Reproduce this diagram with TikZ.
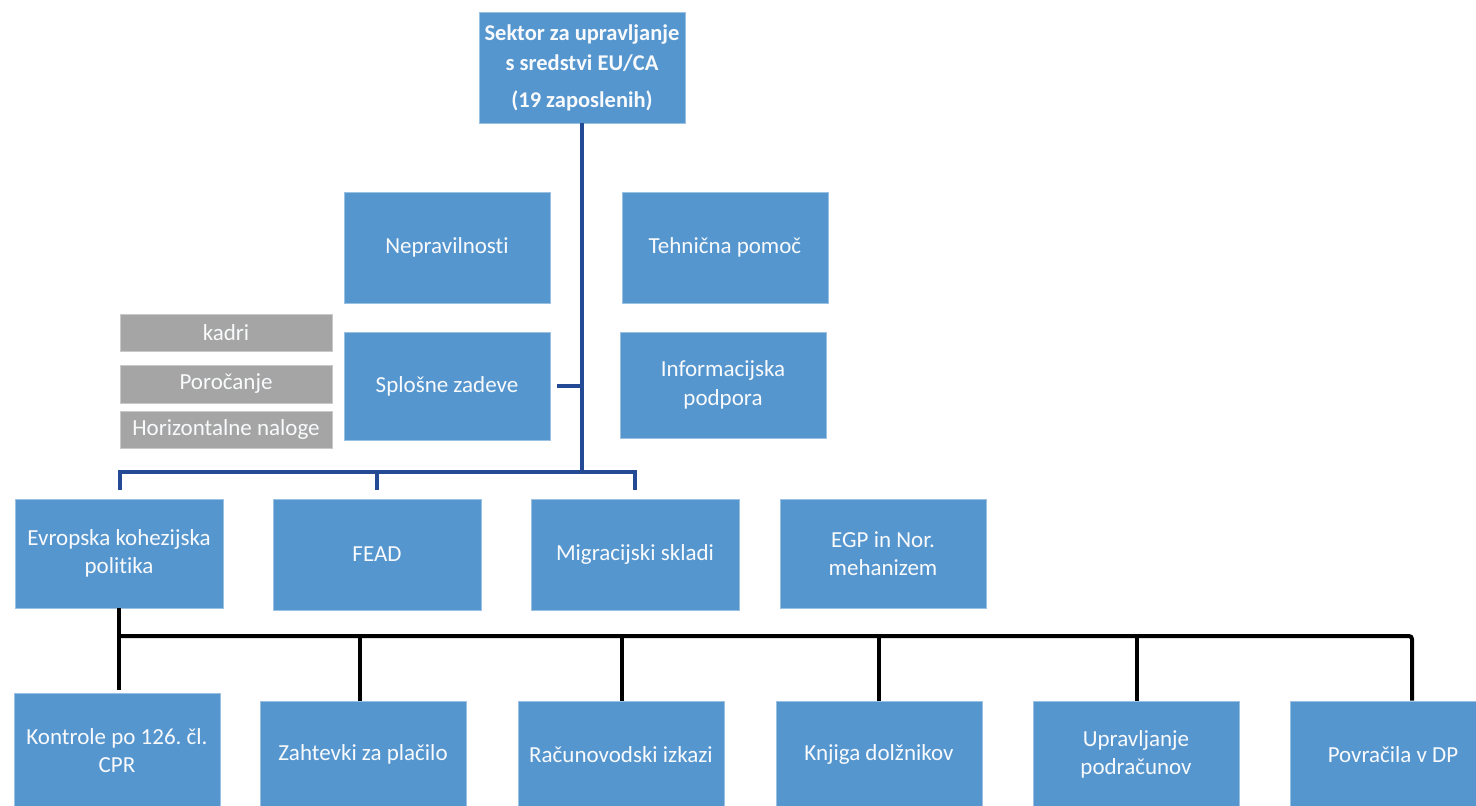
\documentclass[tikz,border=0pt]{standalone}
\usepackage{fontspec}
\setmainfont{Carlito}[Ligatures=NoCommon]
\frenchspacing
\definecolor{boxblue}{RGB}{86,150,207}
\definecolor{boxgray}{RGB}{165,165,165}
\definecolor{lineblue}{RGB}{36,74,150}
\definecolor{txt}{RGB}{248,250,252}
\begin{document}
\begin{tikzpicture}[x=1pt,y=-1pt,
  bbox/.style={rectangle,fill=boxblue,draw=boxblue!60!white,line width=0.8pt,
    text=txt,align=center,inner sep=0pt,font=\fontsize{23}{28.5}\selectfont},
  gbox/.style={rectangle,fill=boxgray,draw=boxgray!60!white,line width=0.8pt,
    text=txt,align=center,inner sep=0pt,minimum width=212pt,font=\fontsize{23}{27}\selectfont},
  bline/.style={draw=lineblue,line width=3.3pt},
  kline/.style={draw=black,line width=4pt}]
\useasboundingbox (0,0) rectangle (1476,806);
\fill[white] (0,0) rectangle (1476,806);
% top
\node[bbox,minimum width=206pt,minimum height=111pt,font=\bfseries\fontsize{22.5}{30}\selectfont] (top) at (582,67.5)
  {Sektor za upravljanje\\ s sredstvi EU/CA\\[7pt] (19 zaposlenih)};
% second level
\node[bbox,minimum width=206pt,minimum height=111pt] (nep) at (447,247.5) {Nepravilnosti};
\node[bbox,minimum width=206pt,minimum height=111pt] (teh) at (725,247.5) {Tehnična pomoč};
\node[bbox,minimum width=206pt,minimum height=108pt] (spl) at (447,386) {Splošne zadeve};
\node[bbox,minimum width=206pt,minimum height=106pt] (inf) at (723,385) {Informacijska\\ podpora};
\node[gbox,minimum height=37pt] (kad) at (226,332.5) {kadri};
\node[gbox,minimum height=38pt] (por) at (226,384) {Poročanje};
\node[gbox,minimum height=37pt] (hor) at (226,429.5) {Horizontalne naloge};
% third level
\node[bbox,minimum width=208pt,minimum height=109pt] (evr) at (119,553.5) {Evropska kohezijska\\ politika};
\node[bbox,minimum width=208pt,minimum height=111pt] (fead) at (377,554.5) {FEAD};
\node[bbox,minimum width=208pt,minimum height=111pt] (mig) at (635,554.5) {Migracijski skladi};
\node[bbox,minimum width=206pt,minimum height=109pt] (egp) at (883,553.5) {EGP in Nor.\\ mehanizem};
% fourth level
\node[bbox,minimum width=206pt,minimum height=115pt] (kon) at (117,750.5) {Kontrole po 126. čl.\\ CPR};
\node[bbox,minimum width=206pt,minimum height=107pt] (zah) at (363,754.5) {Zahtevki za plačilo};
\node[bbox,minimum width=206pt,minimum height=107pt] (rac) at (621,754.5) {Računovodski izkazi};
\node[bbox,minimum width=206pt,minimum height=107pt] (knj) at (879,754.5) {Knjiga dolžnikov};
\node[bbox,minimum width=206pt,minimum height=107pt] (upr) at (1136,754.5) {Upravljanje\\ podračunov};
\node[bbox,minimum width=206pt,minimum height=107pt] (pov) at (1393,754.5) {Povračila v DP};
% blue connectors
\coordinate (bus1) at (582,472);
\coordinate (bus1l) at (120,472);
\coordinate (bus1r) at (635,472);
\draw[bline] (top.south) -- (bus1);
\draw[bline] ([xshift=7pt]spl.east) -- (spl.east -| bus1);
\draw[bline,line cap=butt] ([yshift=9pt]evr.north -| bus1l) -- (bus1l) -- (bus1r) -- ([yshift=9pt]mig.north -| bus1r);
\draw[bline] ([yshift=9pt]fead.north) -- (fead.north |- bus1);
% black connectors
\coordinate (bus2l) at (119,636);
\coordinate (bus2r) at (1412,636);
\coordinate (d2) at (360,636);
\coordinate (d3) at (622,636);
\coordinate (d4) at (879,636);
\coordinate (d5) at (1137,636);
\draw[kline] (evr.south -| bus2l) -- ([yshift=3pt]kon.north -| bus2l);
\draw[kline,rounded corners=3pt] (bus2l) -- (bus2r) -- (pov.north -| bus2r);
\draw[kline] (d2) -- (zah.north -| d2);
\draw[kline] (d3) -- (rac.north -| d3);
\draw[kline] (d4) -- (knj.north -| d4);
\draw[kline] (d5) -- (upr.north -| d5);
\end{tikzpicture}
\end{document}
